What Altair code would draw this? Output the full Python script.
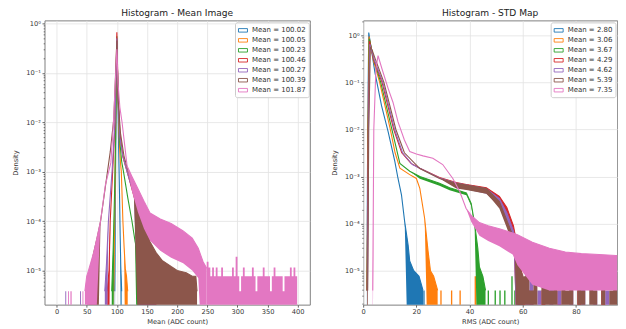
import altair as alt
import pandas as pd

COLORS = ["#1f77b4", "#ff7f0e", "#2ca02c", "#d62728", "#9467bd", "#8c564b", "#e377c2"]

LEFT_LABELS = ["Mean = 100.02", "Mean = 100.05", "Mean = 100.23", "Mean = 100.46",
               "Mean = 100.27", "Mean = 100.39", "Mean = 101.87"]
RIGHT_LABELS = ["Mean = 2.80", "Mean = 3.06", "Mean = 3.67", "Mean = 4.29",
                "Mean = 4.62", "Mean = 5.39", "Mean = 7.35"]

# lo: None -> same as hi (thin line), 0 -> filled down to the bottom
# ---------------- Left panel: Mean Image ----------------
L_BLUE_X = [96.5, 98.5, 100, 101.5, 103, 104.5, 105.5, 106.5, 108]
L_BLUE_HI = [3.8e-6, 1e-2, 0.45, 5e-2, 3e-3, 3e-4, 5e-5, 1.2e-5, 3.8e-6]
L_BLUE_LO = [0, None, None, None, None, None, None, 0, 0]

L_ORANGE_X = [94.5, 96.5, 98, 100, 102, 104, 106, 107.4, 110, 112, 114, 116, 118]
L_ORANGE_HI = [3.8e-6, 1e-4, 1e-2, 0.5, 3e-2, 4e-3, 1.5e-3, 1e-3, 1e-4, 3e-5, 1.1e-5, 7.6e-6, 3.8e-6]
L_ORANGE_LO = [0, None, None, None, None, None, None, None, None, None, 0, 0, 0]

L_GREEN_X = [91.5, 94, 96, 98, 100, 102, 105, 108, 111, 118, 125, 130, 134, 138, 143, 148, 151]
L_GREEN_HI = [3.8e-6, 3e-5, 3e-4, 5e-3, 0.55, 3e-2, 4e-3, 1.6e-3, 1e-3, 3e-4, 1e-4, 4e-5,
              2.2e-5, 1.2e-5, 7.6e-6, 5e-6, 3.8e-6]
L_GREEN_LO = [0, 0, None, None, None, None, None, None, None, None, None, None, 0, 0, 0, 0, 0]

L_RED_X = [84, 87, 89, 93, 97, 100, 102, 105, 110, 117, 125, 133, 141.6, 152, 158, 161, 163, 165.5]
L_RED_HI = [3.8e-6, 1e-5, 1e-4, 1e-3, 1e-2, 0.66, 4e-2, 6e-3, 2e-3, 1e-3, 4.5e-4, 2e-4, 1e-4,
            4.5e-5, 2.5e-5, 1.5e-5, 7.6e-6, 3.8e-6]
L_RED_LO = [0, 0, None, None, None, None, None, None, None, None, None, None, 0, 0, 0, 0, 0, 0]

L_PURPLE_X = [80, 83, 86, 92, 97, 100, 102, 105, 110, 118, 128, 140, 150, 158, 162, 164.5]
L_PURPLE_HI = [3.8e-6, 1.5e-5, 1e-4, 1e-3, 1e-2, 0.5, 3e-2, 5e-3, 2e-3, 9e-4, 3.5e-4, 1.2e-4,
               5e-5, 2e-5, 7.6e-6, 3.8e-6]
L_PURPLE_LO = [0, 0, None, None, None, None, None, None, None, None, None, 0, 0, 0, 0, 0]

L_BROWN_X = [53, 56, 62, 68, 73, 81, 89, 95, 100, 102, 106, 112, 119, 128, 137, 147, 155, 165,
             175, 190, 200, 215, 225, 231, 233]
L_BROWN_HI = [3.8e-6, 1.1e-5, 2.4e-5, 5e-5, 1e-4, 5e-4, 2.5e-3, 1.2e-2, 0.45, 3e-2, 6e-3, 2e-3,
              1e-3, 4e-4, 1.8e-4, 8e-5, 3.8e-5, 2.3e-5, 1.6e-5, 1.2e-5, 1e-5, 9e-6, 7.6e-6, 7.6e-6, 3.8e-6]
L_BROWN_LO = [0, 0, 0, 0, None, None, None, None, None, None, None, None, None, None, 0, 0, 0, 0,
              0, 0, 0, 0, 0, 0, 0]

L_PINK_X = [47, 50, 53, 62, 73, 81, 90, 94, 97, 100, 102, 105, 108.6, 117, 125, 135, 145, 155,
            172, 190, 210, 225, 235, 243, 249]
L_PINK_HI = [3.8e-6, 7.6e-6, 1e-5, 2.4e-5, 1e-4, 5.4e-4, 1.5e-3, 8e-3, 5e-2, 0.3, 6e-2, 2e-2,
             1e-2, 1.3e-3, 8e-4, 4.5e-4, 2.5e-4, 1.45e-4, 1.1e-4, 8.9e-5, 6.3e-5, 4.5e-5, 2.8e-5,
             1.5e-5, 1.1e-5]
L_PINK_LO = [0, 0, 0, 0, None, None, None, None, None, None, None, None, None, None, 4e-4, 1.5e-4,
             7e-5, 4e-5, 2.5e-5, 1.8e-5, 1.4e-5, 1e-5, 7e-6, 0, 0]

# pink noise tail 249..399, bins of 3
L_PINK_TAIL_START = 249
L_PINK_TAIL_BIN = 3
L_PINK_TAIL_H = [1.5e-5, 1.14e-5, 7.6e-6, 1.14e-5, 7.6e-6, 1.14e-5, 7.6e-6, 7.6e-6, 1.14e-5, 7.6e-6,
                 7.6e-6, 7.6e-6, 7.6e-6, 7.6e-6, 1.14e-5, 7.6e-6, 1.9e-5, 7.6e-6, 3.8e-6, 7.6e-6,
                 1.14e-5, 7.6e-6, 7.6e-6, 7.6e-6, 7.6e-6, 1.14e-5, 7.6e-6, 3.8e-6, 7.6e-6, 7.6e-6,
                 7.6e-6, 1.14e-5, 7.6e-6, 7.6e-6, 7.6e-6, 3.8e-6, 7.6e-6, 1.14e-5, 7.6e-6, 7.6e-6,
                 7.6e-6, 7.6e-6, 3.8e-6, 7.6e-6, 7.6e-6, 7.6e-6, 1.14e-5, 7.6e-6, 1.14e-5, 7.6e-6]

# isolated single-count bins on the left side
L_SPIKE_SERIES = [4, 6, 6, 4, 6, 5]
L_SPIKE_X0 = [14.5, 19, 23, 39, 43, 51]
L_SPIKE_X1 = [16, 20.5, 25, 40.5, 44.5, 53]
L_SPIKE_H = [3.8e-6, 3.8e-6, 3.8e-6, 3.8e-6, 3.8e-6, 7.6e-6]

# ---------------- Right panel: STD Map ----------------
R_BLUE_X = [1.4, 1.7, 2.1, 4.4, 6.9, 9.4, 11.9, 13.1, 14.4, 15.6, 16.9, 17.5, 19, 21, 22.5]
R_BLUE_HI = [3.8e-6, 1e-2, 1.15, 0.166, 3.2e-2, 8.9e-3, 2.1e-3, 9.1e-4, 4.1e-4, 1.1e-4, 3.5e-5,
             1.6e-5, 1e-5, 7.6e-6, 3.8e-6]
R_BLUE_LO = [0, None, None, None, None, None, None, None, None, None, 0, 0, 0, 0, 0]

R_ORANGE_X = [1.45, 1.8, 2.2, 3.8, 6.2, 10.2, 12, 13.8, 17.5, 20, 21.3, 23.1, 24.4, 25.3, 26.5, 28]
R_ORANGE_HI = [3.8e-6, 1e-2, 0.95, 0.3, 0.1, 1e-2, 3.2e-3, 1.5e-3, 1.1e-3, 9.1e-4, 5.6e-4, 1.3e-4,
               2.6e-5, 1e-5, 7.6e-6, 3.8e-6]
R_ORANGE_LO = [0, None, None, None, None, None, None, None, None, None, None, None, 0, 0, 0, 0]

R_GREEN_X = [1.5, 1.9, 2.3, 4, 6.6, 10.8, 13.8, 17.5, 21.3, 28.7, 32.5, 38.8, 40.6, 41.9, 43.1,
             43.7, 45, 46]
R_GREEN_HI = [3.8e-6, 1e-2, 0.85, 0.3, 0.1, 1e-2, 1.9e-3, 1.3e-3, 1e-3, 7.2e-4, 5.8e-4, 4.5e-4,
              2.7e-4, 1e-4, 3e-5, 1.2e-5, 7.6e-6, 3.8e-6]
R_GREEN_LO = [0, None, None, None, None, None, None, None, 9e-4, 6.4e-4, 5.1e-4, 4e-4, 2.4e-4,
              8.5e-5, 0, 0, 0, 0]

R_RED_X = [1.5, 1.9, 2.4, 4, 7.1, 11.5, 14.5, 18, 21.3, 28.7, 35, 38.8, 46.3, 51.2, 54, 56.5, 58,
           59, 60]
R_RED_HI = [3.8e-6, 1e-2, 0.75, 0.3, 0.1, 1e-2, 3.2e-3, 1.9e-3, 1.5e-3, 9.5e-4, 7.5e-4, 6.8e-4,
            5.8e-4, 3.8e-4, 2.2e-4, 9e-5, 3.2e-5, 1.2e-5, 7.6e-6]
R_RED_LO = [0, None, None, None, None, None, None, None, None, None, 6e-4, 5.5e-4, 4.5e-4, 2.7e-4,
            1.4e-4, 5.5e-5, 0, 0, 0]

R_PURPLE_X = [1.6, 2.0, 2.5, 4.2, 7.4, 11.8, 14.8, 18.5, 21.3, 28.7, 35, 38.8, 46.3, 51.2, 54,
              56.5, 58, 59, 60]
R_PURPLE_HI = [3.8e-6, 1e-2, 0.65, 0.3, 0.1, 1e-2, 3.2e-3, 1.8e-3, 1.5e-3, 9.3e-4, 7.3e-4, 6.6e-4,
               5.5e-4, 3.4e-4, 1.7e-4, 7e-5, 2.6e-5, 1e-5, 7.6e-6]
R_PURPLE_LO = [0, None, None, None, None, None, None, None, None, None, 5.8e-4, 5.3e-4, 4.3e-4,
               2.5e-4, 1.2e-4, 4.5e-5, 0, 0, 0]

R_BROWN_X = [1.7, 2.1, 2.7, 3.3, 4.5, 7.8, 12.3, 15.5, 21.3, 28.7, 35, 38.8, 46.3, 48.7, 51.2,
             53.7, 55.6, 56.9, 58.1, 59, 60]
R_BROWN_HI = [3.8e-6, 1e-2, 0.55, 0.5, 0.32, 0.1, 1e-2, 3.2e-3, 1.48e-3, 9.1e-4, 7.2e-4, 6.6e-4,
              5.6e-4, 4.1e-4, 2.95e-4, 1.3e-4, 6.9e-5, 4.2e-5, 2.6e-5, 1.1e-5, 7.6e-6]
R_BROWN_LO = [0, None, None, None, None, None, None, None, None, None, 5.6e-4, 5.2e-4, 4.3e-4,
              3.1e-4, 2.1e-4, 9e-5, 4.6e-5, 2.7e-5, 0, 0, 0]

R_PINK_X = [3.6, 4.0, 4.8, 5.6, 7, 9.4, 11.2, 13.1, 15.5, 17.5, 20, 22.5, 26.2, 29.9, 33.7, 36.3,
            38.7, 40.6, 43.7, 47, 51.2, 56.2, 58, 63.6, 70, 76, 82, 88.7, 95, 99]
R_PINK_HI = [3.8e-6, 1e-2, 0.2, 0.37, 0.2, 7.4e-2, 3.8e-2, 1.45e-2, 6e-3, 3.4e-3, 3e-3, 2.75e-3,
             2.45e-3, 1.8e-3, 9.1e-4, 4.8e-4, 2.1e-4, 1.5e-4, 1.05e-4, 9e-5, 7.8e-5, 6.3e-5, 5.8e-5,
             4e-5, 3e-5, 2.5e-5, 2.3e-5, 2.2e-5, 2.1e-5, 2.1e-5]
R_PINK_LO = [0, None, None, None, None, None, None, None, None, None, None, None, None, None, None,
             None, None, 1.1e-4, 5.5e-5, 4.3e-5, 3.3e-5, 2.2e-5, 1.3e-5, 5e-6, 3.8e-6, 3.8e-6,
             3.8e-6, 3.8e-6, 3.8e-6, 3.8e-6]

# noisy bottom tails 58..100, bins of 1.5 (0 = empty bin)
R_TAIL_START = 58
R_TAIL_BIN = 1.5
R_RED_TAIL_H = [1.14e-5, 3.8e-6, 0, 3.8e-6, 0, 0, 3.8e-6, 0, 0, 0, 3.8e-6, 0, 0, 0, 0, 3.8e-6,
                0, 0, 0, 0, 0, 3.8e-6, 0, 0, 0, 0, 0, 3.8e-6]
R_PURPLE_TAIL_H = [7.6e-6, 0, 3.8e-6, 7.6e-6, 0, 3.8e-6, 0, 0, 7.6e-6, 0, 3.8e-6, 0, 0, 3.8e-6,
                   0, 0, 7.6e-6, 0, 0, 3.8e-6, 0, 0, 3.8e-6, 0, 0, 0, 3.8e-6, 0]
R_BROWN_TAIL_H = [1.14e-5, 7.6e-6, 1.14e-5, 3.8e-6, 7.6e-6, 0, 1.14e-5, 7.6e-6, 3.8e-6, 7.6e-6,
                  0, 7.6e-6, 3.8e-6, 1.14e-5, 0, 7.6e-6, 3.8e-6, 0, 7.6e-6, 3.8e-6, 0, 7.6e-6, 0,
                  3.8e-6, 7.6e-6, 0, 3.8e-6, 7.6e-6]

R_SPIKE_SERIES = [0, 1, 1, 1, 1, 2, 2, 2, 2, 2, 2]
R_SPIKE_X0 = [22.6, 29, 33, 36.2, 41.9, 46.8, 49.4, 51.2, 53, 55.7, 56.8]
R_SPIKE_X1 = [23.1, 29.5, 33.5, 36.7, 42.6, 47.3, 49.9, 51.7, 53.5, 56.2, 57.3]
R_SPIKE_H = [3.8e-6, 3.8e-6, 3.8e-6, 3.8e-6, 7.6e-6, 3.8e-6, 3.8e-6, 3.8e-6, 3.8e-6, 7.6e-6, 3.8e-6]

FLOOR = 1e-7
LEFT_X_TICKS = [0, 50, 100, 150, 200, 250, 300, 350, 400]
RIGHT_X_TICKS = [0, 20, 40, 60, 80]

LEFT_CURVES = [(L_BLUE_X, L_BLUE_HI, L_BLUE_LO), (L_ORANGE_X, L_ORANGE_HI, L_ORANGE_LO),
               (L_GREEN_X, L_GREEN_HI, L_GREEN_LO), (L_RED_X, L_RED_HI, L_RED_LO),
               (L_PURPLE_X, L_PURPLE_HI, L_PURPLE_LO), (L_BROWN_X, L_BROWN_HI, L_BROWN_LO),
               (L_PINK_X, L_PINK_HI, L_PINK_LO)]
RIGHT_CURVES = [(R_BLUE_X, R_BLUE_HI, R_BLUE_LO), (R_ORANGE_X, R_ORANGE_HI, R_ORANGE_LO),
                (R_GREEN_X, R_GREEN_HI, R_GREEN_LO), (R_RED_X, R_RED_HI, R_RED_LO),
                (R_PURPLE_X, R_PURPLE_HI, R_PURPLE_LO), (R_BROWN_X, R_BROWN_HI, R_BROWN_LO),
                (R_PINK_X, R_PINK_HI, R_PINK_LO)]


def curves_df(labels, curves):
    rows = []
    for k, (xs, his, los) in enumerate(curves):
        for x, hi, lo in zip(xs, his, los):
            lo_v = FLOOR if lo == 0 else (hi if lo is None else lo)
            rows.append({"k": k, "series": labels[k], "x": x, "hi": hi, "lo": lo_v})
    return pd.DataFrame(rows)


def tails_df(binned):
    rows = []
    for k, start, width, hs in binned:
        for i, h in enumerate(hs):
            rows.append({"k": k, "x": start + i * width, "h": h if h > 0 else FLOOR, "floor": FLOOR})
        rows.append({"k": k, "x": start + len(hs) * width, "h": FLOOR, "floor": FLOOR})
    return pd.DataFrame(rows)


def spikes_df(ser, x0s, x1s, hs):
    return pd.DataFrame({"k": ser, "x0": x0s, "x1": x1s, "h": hs, "floor": [FLOOR] * len(ser)})


left_curves = curves_df(LEFT_LABELS, LEFT_CURVES)
left_tails = tails_df([(6, L_PINK_TAIL_START, L_PINK_TAIL_BIN, L_PINK_TAIL_H)])
left_spikes = spikes_df(L_SPIKE_SERIES, L_SPIKE_X0, L_SPIKE_X1, L_SPIKE_H)
right_curves = curves_df(RIGHT_LABELS, RIGHT_CURVES)
right_tails = tails_df([(3, R_TAIL_START, R_TAIL_BIN, R_RED_TAIL_H),
                        (4, R_TAIL_START, R_TAIL_BIN, R_PURPLE_TAIL_H),
                        (5, R_TAIL_START, R_TAIL_BIN, R_BROWN_TAIL_H)])
right_spikes = spikes_df(R_SPIKE_SERIES, R_SPIKE_X0, R_SPIKE_X1, R_SPIKE_H)

MAJOR_TEST = "abs(log(datum.value)/LN10 - round(log(datum.value)/LN10)) < 0.01"
LABEL_EXPR = ("abs(log(datum.value)/LN10 - round(log(datum.value)/LN10)) > 0.01 ? '' : "
              "(datum.value > 0.5 ? '10\u2070' : '10\u207b' + "
              "['\u2070','\u00b9','\u00b2','\u00b3','\u2074','\u2075','\u2076']"
              "[round(-log(datum.value)/LN10)])")

RECT_PATH = "M-1,-0.39H1V0.39H-1Z"


def y_ticks(lo, hi):
    vals = []
    for e in range(-7, 1):
        for m in range(1, 10):
            v = m * 10 ** e
            if lo <= v <= hi:
                vals.append(v)
    return vals


def panel(title, labels, cdf, tdf, sdf, xdom, ydom, xticks, width, xtitle):
    cscale = alt.Scale(domain=labels, range=COLORS)
    xscale = alt.Scale(domain=xdom, nice=False, zero=False)
    yscale = alt.Scale(type="log", domain=ydom, nice=False)
    xaxis = alt.Axis(values=xticks, title=xtitle, grid=True, gridColor="#e2e2e2", gridWidth=0.8,
                     tickSize=2.5, tickColor="#666", labelFontSize=6.7, labelColor="#333",
                     labelPadding=1.5, titleFontSize=6.7, titleFontWeight="normal",
                     titleColor="#333", titlePadding=3, domain=False, labelFlush=False)
    yaxis = alt.Axis(values=y_ticks(ydom[0], ydom[1]), title="Density", grid=True,
                     gridColor="#e2e2e2", gridWidth=0.8,
                     gridOpacity={"condition": {"test": MAJOR_TEST, "value": 1}, "value": 0},
                     tickSize={"condition": {"test": MAJOR_TEST, "value": 2.5}, "value": 1.3},
                     tickColor="#666", labelExpr=LABEL_EXPR, labelFontSize=6.7,
                     labelColor="#333", labelPadding=1.5, titleFontSize=6.7,
                     titleFontWeight="normal", titleColor="#333", titlePadding=6.7,
                     minExtent=19, maxExtent=19, domain=False, labelFlush=False)
    legend = alt.Legend(title=None, orient="top-right", offset=1.5, padding=3,
                        fillColor="rgba(255,255,255,0.85)", strokeColor="#cccccc",
                        cornerRadius=2, symbolType=RECT_PATH, symbolSize=81,
                        symbolStrokeWidth=0.9, labelFontSize=7, labelColor="#333",
                        rowPadding=1, labelOffset=4)
    layers = []
    for k, lab in enumerate(labels):
        col = COLORS[k]
        c = cdf[cdf.k == k]
        t = tdf[tdf.k == k]
        s = sdf[sdf.k == k]
        layers.append(alt.Chart(c).mark_area(clip=True, color=col).encode(
            x=alt.X("x:Q", scale=xscale, axis=xaxis),
            y=alt.Y("hi:Q", scale=yscale, axis=yaxis),
            y2="lo:Q"))
        if len(t):
            layers.append(alt.Chart(t).mark_area(clip=True, color=col,
                                                 interpolate="step-after").encode(
                x=alt.X("x:Q", scale=xscale, axis=xaxis),
                y=alt.Y("h:Q", scale=yscale, axis=yaxis),
                y2="floor:Q"))
        if len(s):
            layers.append(alt.Chart(s).mark_rect(clip=True, color=col).encode(
                x=alt.X("x0:Q", scale=xscale, axis=xaxis),
                x2="x1:Q",
                y=alt.Y("h:Q", scale=yscale, axis=yaxis),
                y2="floor:Q"))
        layers.append(alt.Chart(c).mark_line(clip=True, strokeWidth=1.1).encode(
            x=alt.X("x:Q", scale=xscale, axis=xaxis),
            y=alt.Y("hi:Q", scale=yscale, axis=yaxis),
            stroke=alt.Stroke("series:N", scale=cscale, legend=legend)))
    return alt.layer(*layers).properties(
        width=width, height=285,
        title=alt.TitleParams(title, fontSize=9.1, fontWeight="normal", color="#222", offset=2))


left = panel("Histogram - Mean Image", LEFT_LABELS, left_curves, left_tails, left_spikes,
             [-20, 420], [2.03e-6, 1.15], LEFT_X_TICKS, 266, "Mean (ADC count)")
right = panel("Histogram - STD Map", RIGHT_LABELS, right_curves, right_tails, right_spikes,
              [0, 95.5], [1.9e-6, 2.08], RIGHT_X_TICKS, 254.7, "RMS (ADC count)")

chart = alt.hconcat(left, right, spacing=19.5).resolve_scale(
    stroke="independent").resolve_legend(stroke="independent").properties(
    padding={"left": 3.6, "top": 0, "right": 0, "bottom": 0}
).configure(font="DejaVu Sans").configure_view(stroke="#808080", strokeWidth=1)

chart.save("out.html", embed_options={"renderer": "svg", "actions": False})
